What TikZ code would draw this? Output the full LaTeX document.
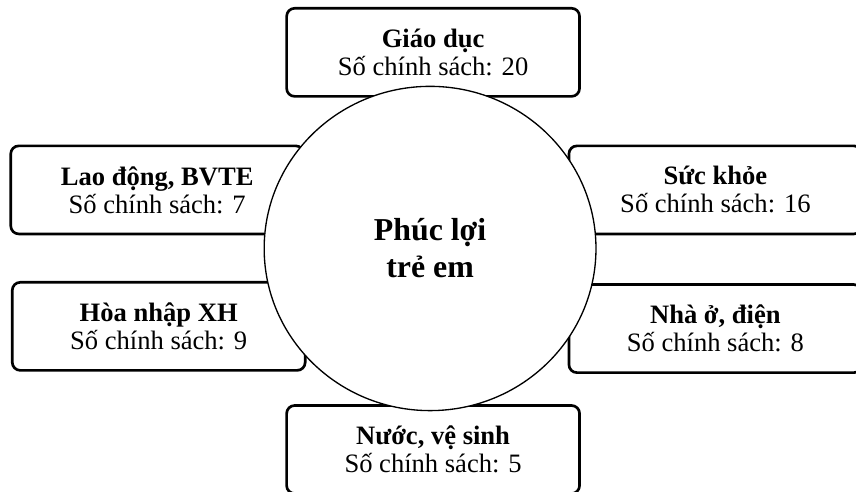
\documentclass[tikz,border=0pt]{standalone}
\usepackage{fontspec}
\setmainfont{Liberation Serif}
\usetikzlibrary{positioning, shapes.geometric}

\begin{document}
\begin{tikzpicture}[
    hub/.style={ellipse, draw=black, line width=1pt, fill=white, minimum width=8.78cm, minimum height=8.58cm, inner sep=0pt, align=center, font=\fontsize{24}{28}\selectfont\bfseries},
    area/.style={rectangle, draw=black, line width=2pt, fill=white, rounded corners=6pt, minimum width=7.75cm, minimum height=2.33cm, align=center, font=\fontsize{20}{21}\selectfont}
]
\clip (-11.38,-6.42) rectangle (11.27,6.575);

% Top and bottom
\node[area] (edu) at (0.08,5.19) {\textbf{Giáo dục}\\Số chính sách: 20};
\node[area] (water) at (0.08,-5.32) {\textbf{Nước, vệ sinh}\\Số chính sách: 5};

% Left side
\node[area] (labor) at (-7.22,1.55) {\textbf{Lao động, BVTE}\\Số chính sách: 7};
\node[area] (social) at (-7.18,-2.06) {\textbf{Hòa nhập XH}\\Số chính sách: 9};

% Right side
\node[area] (health) at (7.55,1.55) {\textbf{Sức khỏe}\\Số chính sách: 16};
\node[area] (housing) at (7.55,-2.12) {\textbf{Nhà ở, điện}\\Số chính sách: 8};

% Centre
\node[hub] (welfare) at (0,0) {Phúc lợi\\trẻ em};

\end{tikzpicture}
\end{document}
